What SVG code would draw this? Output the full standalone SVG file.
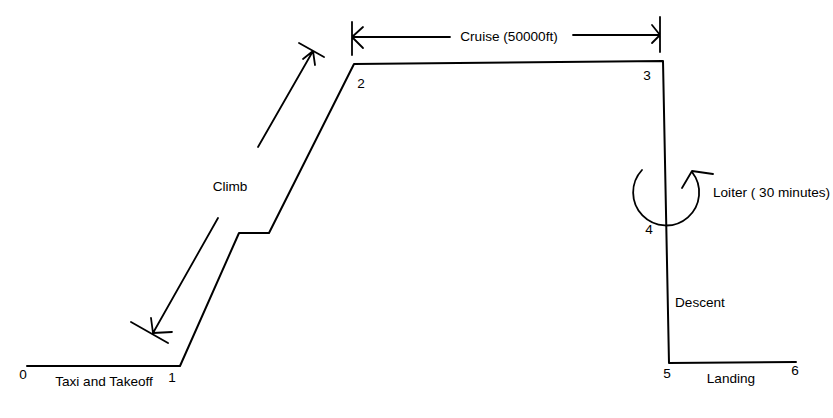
<svg xmlns="http://www.w3.org/2000/svg" width="833" height="418" viewBox="0 0 833 418">
<style>
.ln{fill:none;stroke:#000;stroke-width:2;stroke-linecap:round;stroke-linejoin:round}
.ar{fill:none;stroke:#000;stroke-width:1.8;stroke-linecap:round;stroke-linejoin:round}
text{font-family:"Liberation Sans",Arial,sans-serif;font-size:13.6px;fill:#000}
</style>
<rect width="833" height="418" fill="#fff"/>
<g id="profile">
<path class="ln" d="M27,366 L180,366 L239,233 L269,233 L354,64 L663,61 L669,363 L796,362"/>
</g>
<g id="connectors">
<path class="ar" d="M258,147 L313,51 M299,43 L324,57 M303,59 L313,51 L315,65"/>
<path class="ar" d="M218,218 L153,333 M131,322 L168,343 M151,318 L153,333 L172,332"/>
<path class="ar" d="M352,22 L352,55 M352,37 L450,37 M363,27 L352,37 L363,48"/>
<path class="ar" d="M660,17 L660,52 M573,35 L660,35 M652,25 L660,35 L652,43"/>
<path class="ar" d="M642,170 A33,33 0 1 0 692,172 M713,174 L692,171 L682,188"/>
</g>
<g id="labels">
<text x="23" y="379" text-anchor="middle">0</text>
<text x="172" y="382" text-anchor="middle">1</text>
<text x="361" y="88" text-anchor="middle">2</text>
<text x="647" y="80" text-anchor="middle">3</text>
<text x="649" y="234" text-anchor="middle">4</text>
<text x="667" y="378" text-anchor="middle">5</text>
<text x="795" y="375" text-anchor="middle">6</text>
<text x="104" y="386" text-anchor="middle">Taxi and Takeoff</text>
<text x="230" y="191" text-anchor="middle">Climb</text>
<text x="509" y="41" text-anchor="middle">Cruise (50000ft)</text>
<text x="713" y="197">Loiter ( 30 minutes)</text>
<text x="675" y="307">Descent</text>
<text x="731" y="383" text-anchor="middle">Landing</text>
</g>
</svg>
